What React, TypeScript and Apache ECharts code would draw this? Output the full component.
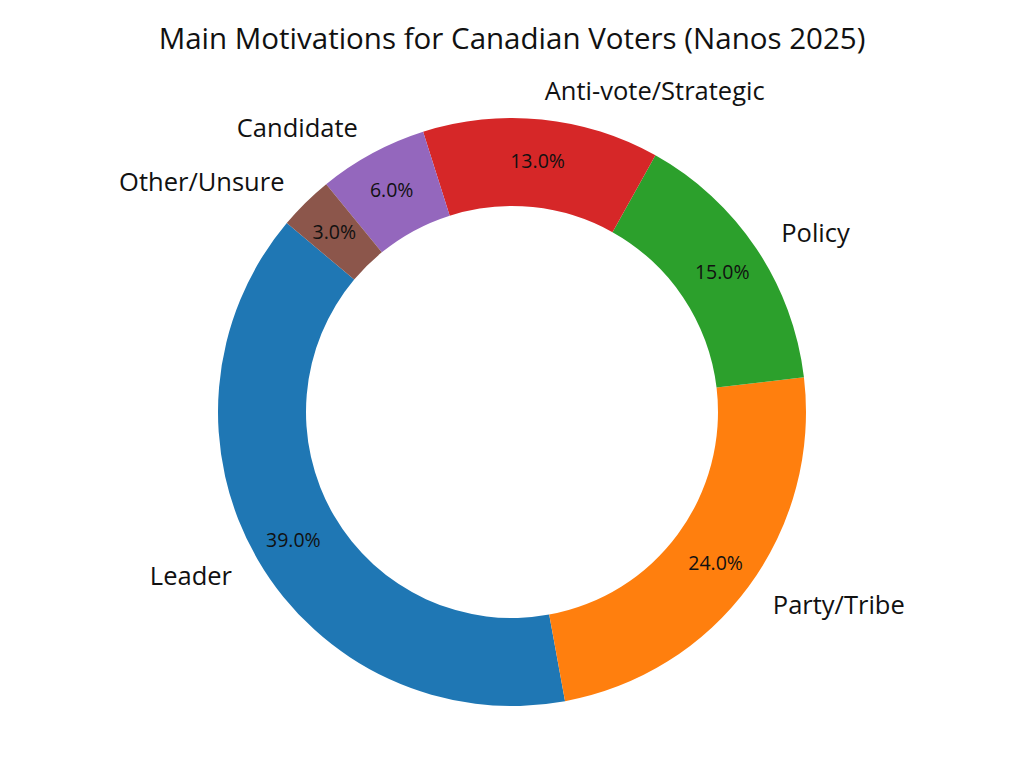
import React, { useEffect, useRef } from "react";
import * as echarts from "echarts";

const categories = ["Leader", "Party/Tribe", "Policy", "Anti-vote/Strategic", "Candidate", "Other/Unsure"];
const values = [39, 24, 15, 13, 6, 3];
const colors = ["#1f77b4", "#ff7f0e", "#2ca02c", "#d62728", "#9467bd", "#8c564b"];
const titleText = "Main Motivations for Canadian Voters (Nanos 2025)";

export default function App() {
  const ref = useRef<HTMLDivElement>(null);
  useEffect(() => {
    if (!ref.current) return;
    const chart = echarts.init(ref.current, undefined, { renderer: "svg" });
    const data = categories.map((name, i) => ({
      name,
      value: values[i],
      itemStyle: { color: colors[i] },
    }));
    const center = [512, 412];
    const radius = [206, 294];
    const font = "Open Sans";
    chart.setOption({
      animation: false,
      backgroundColor: "#ffffff",
      title: {
        text: titleText,
        left: "center",
        top: 17,
        textStyle: { fontFamily: font, fontSize: 29.5, fontWeight: "normal", color: "#111" },
      },
      series: [
        {
          type: "pie",
          center,
          radius,
          startAngle: 140,
          clockwise: false,
          avoidLabelOverlap: false,
          silent: true,
          data,
          label: {
            show: true,
            position: "inside",
            formatter: (p: any) => Number(p.value).toFixed(1) + "%",
            fontFamily: font,
            fontSize: 19.5,
            color: "#111",
          },
          labelLine: { show: false },
        },
        {
          type: "pie",
          center,
          radius,
          startAngle: 140,
          clockwise: false,
          avoidLabelOverlap: false,
          silent: true,
          data: categories.map((name, i) => ({ name, value: values[i] })),
          itemStyle: { color: "transparent" },
          label: {
            show: true,
            position: "outside",
            formatter: "{b}",
            fontFamily: font,
            fontSize: 25.5,
            color: "#111",
            distanceToLabelLine: 0,
          },
          labelLine: { show: false, length: 30, length2: 0 },
        },
      ],
    });
    return () => chart.dispose();
  }, []);
  return (
    <div
      ref={ref}
      style={{ position: "fixed", left: 0, top: 0, width: 1024, height: 768 }}
    />
  );
}
